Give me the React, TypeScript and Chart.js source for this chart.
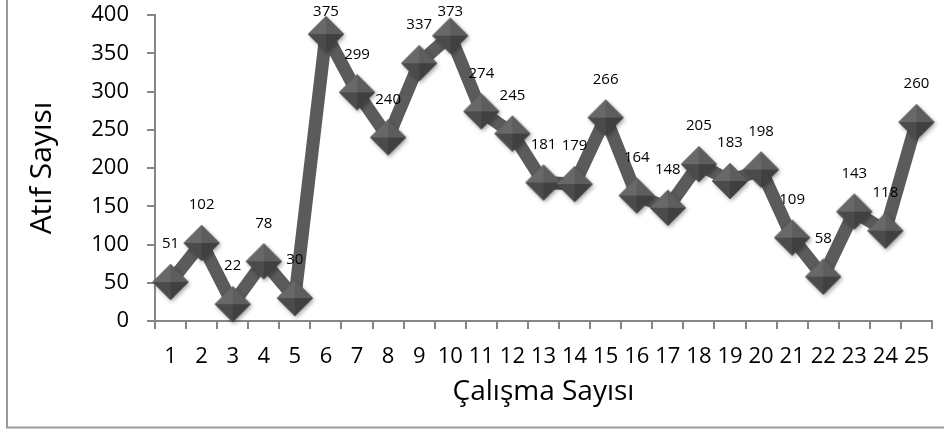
import React, { useEffect, useRef } from "react";
import { Chart, registerables } from "chart.js";

Chart.register(...registerables);

const categories = [
  "1", "2", "3", "4", "5", "6", "7", "8", "9", "10", "11", "12", "13",
  "14", "15", "16", "17", "18", "19", "20", "21", "22", "23", "24", "25",
];
const citations = [
  51, 102, 22, 78, 30, 375, 299, 240, 337, 373, 274, 245, 181, 179, 266,
  164, 148, 205, 183, 198, 109, 58, 143, 118, 260,
];
const yMin = 0;
const yMax = 400;
const yStep = 50;
const xTitle = "Çalışma Sayısı";
const yTitle = "Atıf Sayısı";

const FONT = "'Open Sans', 'Liberation Sans', sans-serif";

function makeDiamond(): HTMLCanvasElement {
  const s = 48;
  const c = document.createElement("canvas");
  c.width = s;
  c.height = s;
  const ctx = c.getContext("2d")!;
  const cx = s / 2;
  const cy = s / 2;
  const r = 18;
  ctx.save();
  ctx.shadowColor = "rgba(0,0,0,0.35)";
  ctx.shadowBlur = 4;
  ctx.shadowOffsetX = 1.5;
  ctx.shadowOffsetY = 2;
  ctx.beginPath();
  ctx.moveTo(cx, cy - r);
  ctx.lineTo(cx + r, cy);
  ctx.lineTo(cx, cy + r);
  ctx.lineTo(cx - r, cy);
  ctx.closePath();
  ctx.fillStyle = "#4d4d4d";
  ctx.fill();
  ctx.restore();
  const facet = (pts: number[][], color: string) => {
    ctx.beginPath();
    ctx.moveTo(pts[0][0], pts[0][1]);
    for (let i = 1; i < pts.length; i++) ctx.lineTo(pts[i][0], pts[i][1]);
    ctx.closePath();
    ctx.fillStyle = color;
    ctx.fill();
  };
  facet([[cx - r, cy], [cx, cy - r], [cx, cy]], "#686868");
  facet([[cx, cy - r], [cx + r, cy], [cx, cy]], "#5d5d5d");
  facet([[cx + r, cy], [cx, cy + r], [cx, cy]], "#404040");
  facet([[cx, cy + r], [cx - r, cy], [cx, cy]], "#4b4b4b");
  return c;
}

const framePlugin = {
  id: "frame",
  beforeDraw(chart: any) {
    const ctx = chart.ctx;
    ctx.save();
    ctx.fillStyle = "#ffffff";
    ctx.fillRect(0, 0, chart.width, chart.height);
    ctx.strokeStyle = "#9a9a9a";
    ctx.lineWidth = 2;
    ctx.beginPath();
    ctx.moveTo(7, 0);
    ctx.lineTo(7, 427.5);
    ctx.lineTo(chart.width, 427.5);
    ctx.stroke();
    ctx.restore();
  },
};

const labelPlugin = {
  id: "valueLabels",
  afterDatasetsDraw(chart: any) {
    const ctx = chart.ctx;
    const meta = chart.getDatasetMeta(0);
    const data = chart.data.datasets[0].data as number[];
    ctx.save();
    ctx.font = `15px ${FONT}`;
    ctx.fillStyle = "#000000";
    ctx.textAlign = "center";
    ctx.textBaseline = "middle";
    meta.data.forEach((pt: any, i: number) => {
      const y = Math.max(pt.y - 38, 12);
      ctx.fillText(String(data[i]), pt.x, y);
    });
    ctx.restore();
  },
};

export default function App() {
  const ref = useRef<HTMLCanvasElement | null>(null);
  useEffect(() => {
    if (!ref.current) return;
    const diamond = makeDiamond();
    const chart = new Chart(ref.current, {
      type: "line",
      data: {
        labels: categories,
        datasets: [
          {
            data: citations,
            borderColor: "#5b5b5b",
            borderWidth: 13,
            borderJoinStyle: "round",
            tension: 0,
            fill: false,
            pointStyle: diamond as any,
            pointRadius: 18,
            clip: false as any,
          },
        ],
      },
      options: {
        responsive: false,
        animation: false,
        maintainAspectRatio: false,
        layout: { autoPadding: false, padding: { left: 0, top: 15, right: 12, bottom: 0 } },
        plugins: {
          legend: { display: false },
          tooltip: { enabled: false },
        },
        scales: {
          x: {
            type: "category",
            offset: true,
            grid: {
              display: true,
              drawOnChartArea: false,
              drawTicks: true,
              tickLength: 8,
              color: "#868686",
              lineWidth: 2,
              offset: true,
            },
            border: { display: true, color: "#868686", width: 2 },
            ticks: {
              color: "#000000",
              font: { family: FONT, size: 22 },
              padding: 15,
              maxRotation: 0,
              autoSkip: false,
            },
            title: {
              display: true,
              text: xTitle,
              color: "#000000",
              font: { family: FONT, size: 28 },
              padding: { top: 0, bottom: 23 },
            },
            afterFit(scale: any) {
              scale.height = 111;
              scale.paddingLeft = 0;
              scale.paddingRight = 0;
            },
          },
          y: {
            min: yMin,
            max: yMax,
            grid: {
              display: true,
              drawOnChartArea: false,
              drawTicks: true,
              tickLength: 8,
              color: "#868686",
              lineWidth: 2,
            },
            border: { display: true, color: "#868686", width: 2 },
            ticks: {
              stepSize: yStep,
              color: "#000000",
              font: { family: FONT, size: 22 },
              padding: 18,
            },
            title: {
              display: true,
              text: yTitle,
              color: "#000000",
              font: { family: FONT, size: 30 },
              padding: { top: 24, bottom: 0 },
            },
            afterFit(scale: any) {
              scale.width = 155;
              scale.paddingTop = 0;
              scale.paddingBottom = 0;
            },
          },
        },
      },
      plugins: [framePlugin, labelPlugin],
    });
    return () => chart.destroy();
  }, []);
  return (
    <div style={{ position: "absolute", left: 0, top: 0, width: 944, height: 432 }}>
      <canvas ref={ref} width={944} height={432} style={{ display: "block" }} />
    </div>
  );
}
